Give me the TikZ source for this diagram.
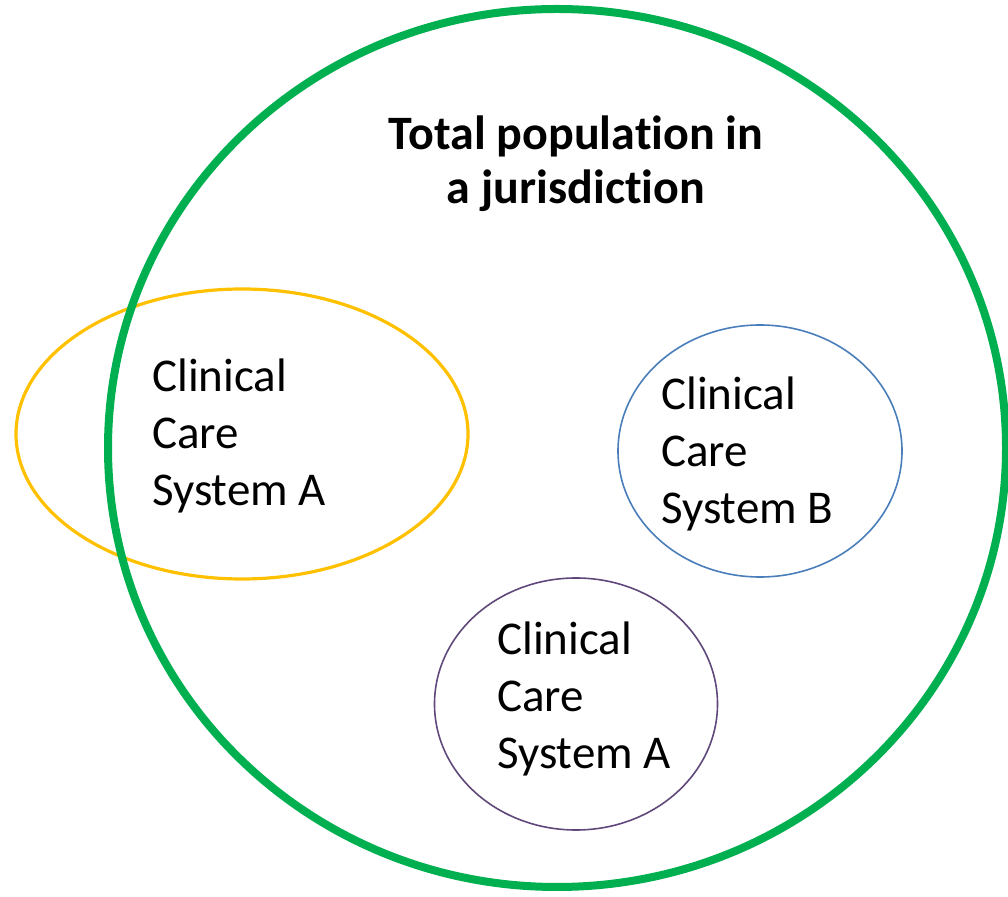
\documentclass[tikz,border=0pt]{standalone}
\usepackage{fontspec}
\setmainfont{Carlito}[Ligatures=NoCommon]
\usetikzlibrary{shapes.geometric}

\definecolor{popgreen}{HTML}{00B050}
\definecolor{sysyellow}{HTML}{FFC000}
\definecolor{sysblue}{HTML}{4A7EBB}
\definecolor{syspurple}{HTML}{5F497A}

\tikzset{
    setshape/.style={ellipse, draw, inner sep=0pt},
    settext/.style={align=left, anchor=base west, inner sep=0pt,
        font=\fontsize{47}{57}\selectfont}
}

\begin{document}
\begin{tikzpicture}[x=1pt,y=1pt]
        \useasboundingbox (0,0) rectangle (1008,896);

        \node[setshape, draw=sysyellow, line width=3.2pt, minimum width=452pt, minimum height=290pt] (sysA) at (242,462) {};
        \node[setshape, draw=sysblue, line width=1.6pt, minimum width=284pt, minimum height=252pt] (sysB) at (760,445) {};
        \node[setshape, draw=syspurple, line width=1.6pt, minimum width=283pt, minimum height=252pt] (sysC) at (576,192) {};
        \node[setshape, draw=popgreen, line width=8pt, minimum width=898pt, minimum height=878pt] (pop) at (557,448) {};

        \node[align=center, anchor=base, inner sep=0pt, font=\bfseries\fontsize{48}{54}\selectfont] (title) at (576,692) {Total population in\\a jurisdiction};

        \node[settext] (txtA) at (152,390) {Clinical\\Care\\System A};
        \node[settext] (txtB) at (661,372) {Clinical\\Care\\System B};
        \node[settext] (txtC) at (497,127) {Clinical\\Care\\System A};
    \end{tikzpicture}
\end{document}
